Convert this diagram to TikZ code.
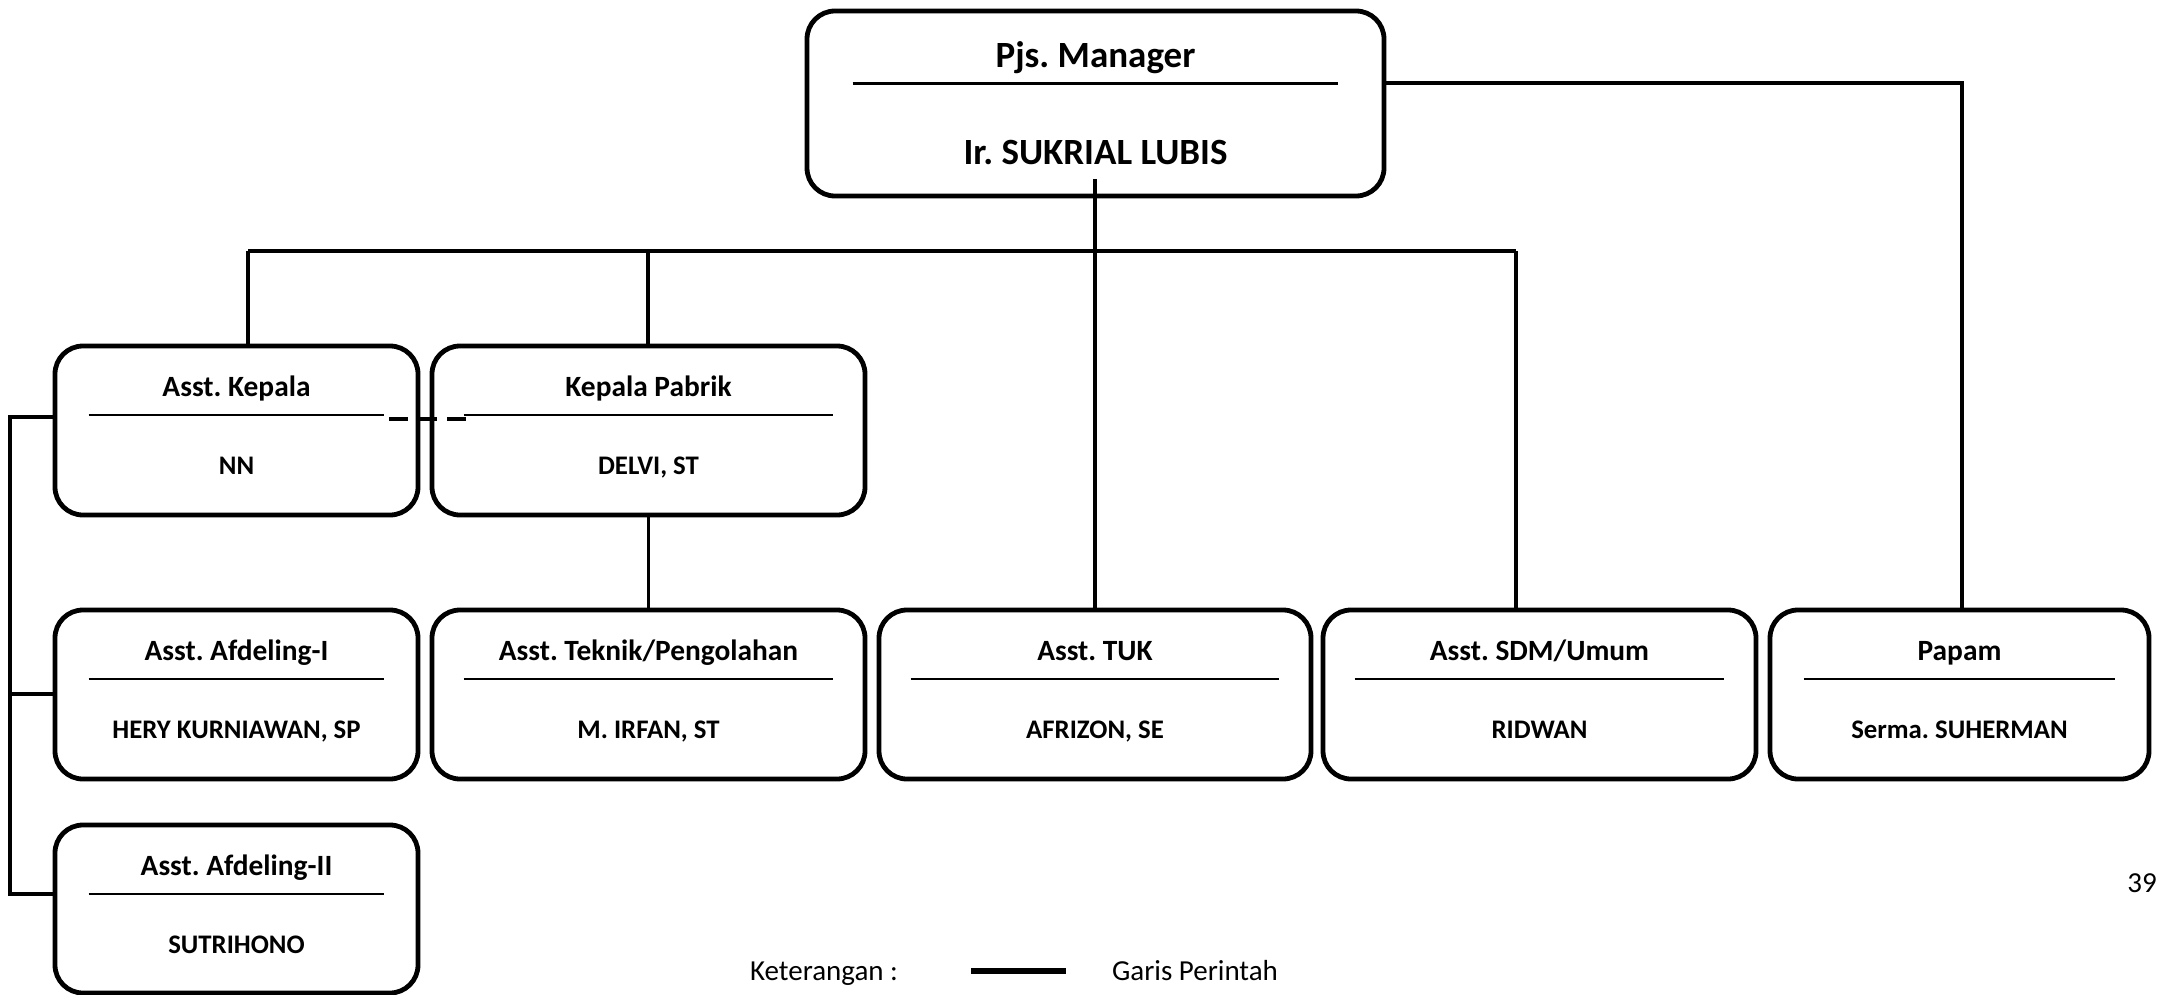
\documentclass[tikz,border=0pt]{standalone}
\usepackage{fontspec}
\setmainfont{Carlito}
\frenchspacing
\usetikzlibrary{calc,fit}
\newcommand\OrgBox[9]{% #1 name, #2 x1, #3 y1, #4 x2, #5 y2, #6 title, #7 person, #8 inset, #9 style prefix
 \node[orgbox, fit={(#2,#3) (#4,#5)}] (#1) {};
 \node[#9ttl, anchor=base] (#1-t) at ($(#1.north)+(0,53)$) {#6};
 \draw[sepline] ($(#1.north west)+(#8,71)$) -- ($(#1.north east)+(-#8,71)$);
 \node[#9nm, anchor=base] (#1-n) at ($(#1.north)+(0,131)$) {#7};
}
\begin{document}
\begin{tikzpicture}[x=0.5pt,y=-0.5pt,
 orgbox/.style={draw, line width=2.4pt, rounded corners=14pt, inner sep=0pt},
 sepline/.style={line width=1.1pt},
 conn/.style={line width=1.7pt},
 rowttl/.style={font=\fontsize{14.7}{16}\selectfont\bfseries, inner sep=0pt},
 rownm/.style={font=\fontsize{13.4}{15}\selectfont\bfseries, inner sep=0pt},
 regtext/.style={font=\fontsize{14.5}{16}\selectfont, inner sep=0pt},
 coord/.style={line width=2.4pt, dash pattern=on 9.5pt off 5pt}
]
\useasboundingbox (0,0) rectangle (2163,995);
\fill[white] (0,0) rectangle (2163,995);

% Manager box
\node[orgbox, fit={(807,11) (1384,196)}] (mgr) {};
\node[font=\fontsize{18.5}{20}\selectfont\bfseries, inner sep=0pt, anchor=base] (mgr-t) at ($(mgr.north)+(0,59)$) {Pjs. Manager};
\draw[sepline] ($(mgr.north west)+(48,75)$) -- ($(mgr.north east)+(-48,75)$);
\node[font=\fontsize{18.5}{20}\selectfont\bfseries, inner sep=0pt, anchor=base] (mgr-n) at ($(mgr.north)+(0,156)$) {Ir. SUKRIAL LUBIS};

% Row 1
\OrgBox{kepala}{55}{346}{418}{515}{Asst. Kepala}{NN}{36}{row}
\OrgBox{pabrik}{432}{346}{865}{515}{Kepala Pabrik}{DELVI, ST}{34}{row}

% Row 2
\OrgBox{afd1}{55}{610}{418}{779}{Asst. Afdeling-I}{HERY KURNIAWAN, SP}{36}{row}
\OrgBox{teknik}{432}{610}{865}{779}{Asst. Teknik/Pengolahan}{M. IRFAN, ST}{34}{row}
\OrgBox{tuk}{879}{610}{1311}{779}{Asst. TUK}{AFRIZON, SE}{34}{row}
\OrgBox{sdm}{1323}{610}{1756}{779}{Asst. SDM/Umum}{RIDWAN}{34}{row}
\OrgBox{papam}{1770}{610}{2149}{779}{Papam}{Serma. SUHERMAN}{36}{row}

% Row 3
\OrgBox{afd2}{55}{825}{418}{993}{Asst. Afdeling-II}{SUTRIHONO}{36}{row}

% Connectors
\coordinate (mgrstem) at (1095,179);
\coordinate (busL) at (248,251);
\coordinate (busM) at (648,251);
\coordinate (busR) at (1516,251);
\coordinate (papamR) at (1962,83);
\coordinate (brk) at (10,417);
\coordinate (brk1) at (10,694);
\coordinate (brk2) at (10,894);

\draw[conn] (mgrstem) -- (tuk.north);
\draw[conn] (busL) -- (busR);
\draw[conn] (busL) -- (busL |- kepala.north);
\draw[conn] (busM) -- (busM |- pabrik.north);
\draw[conn] (busR) -- (busR |- sdm.north);
\draw[conn] (mgr.east |- papamR) -- (papamR) -- (papamR |- papam.north);
\draw[conn] (pabrik.south) -- (teknik.north);
\draw[conn] (kepala.west |- brk) -- (brk) -- (brk2) -- (afd2.west |- brk2);
\draw[conn] (brk1) -- (afd1.west |- brk1);

% coordination dashed line
\coordinate (dashA) at (389,419);
\coordinate (dashB) at (466,419);
\draw[coord] (dashA) -- (dashB);

% Legend
\node[regtext, anchor=base] (ket) at (824,980) {Keterangan :};
\coordinate (legA) at (971,971);
\coordinate (legB) at (1066,971);
\draw[line width=2.6pt] (legA) -- (legB);
\node[regtext, anchor=base] (gp) at (1195,980) {Garis Perintah};

% page number
\node[regtext, anchor=base] (pg) at (2142,892) {39};
\end{tikzpicture}
\end{document}
